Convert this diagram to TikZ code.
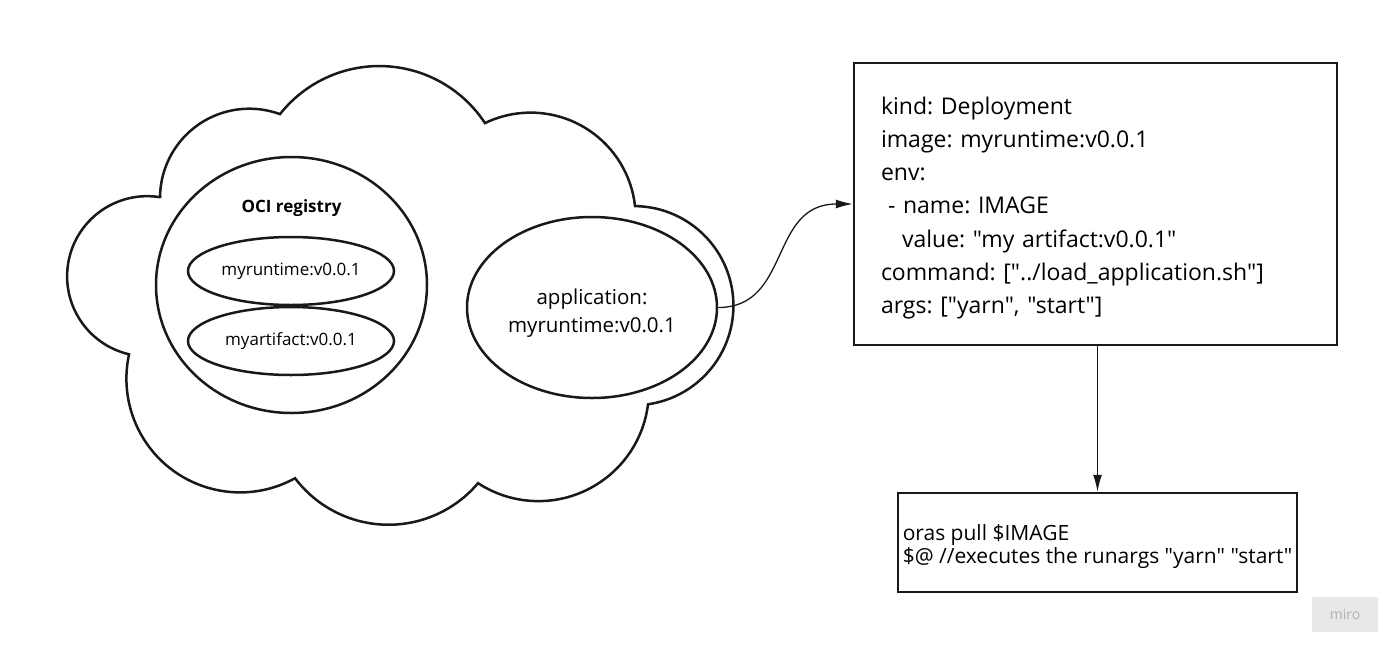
\documentclass[tikz,border=0pt]{standalone}
\usepackage{fontspec}
\setmainfont{Open Sans}[Ligatures=TeXOff]
\usepackage{tikz}
\usetikzlibrary{shapes.geometric,arrows.meta}
\frenchspacing

\begin{document}
\begin{tikzpicture}[x=1pt,y=-1pt,
	outline/.style={draw=black!90, line width=2.5pt},
	oval/.style={ellipse, outline, inner sep=0pt},
	textbox/.style={rectangle, outline, align=left},
	link/.style={draw=black!90, line width=1.3pt, -{Latex[length=17pt,width=9pt]}}]
	\useasboundingbox (0,0) rectangle (1400,654);
	\draw[outline] (160,198) arc[start angle=180, end angle=69.9, radius=89.3pt]
		arc[start angle=141.7, end angle=33.3, radius=126.5pt]
		arc[start angle=115.8, end angle=6.3, radius=105pt]
		arc[start angle=89.3, end angle=-81.8, radius=99.6pt]
		arc[start angle=-7.1, end angle=-123.1, radius=110.5pt]
		arc[start angle=-40.2, end angle=-142.9, radius=117.2pt]
		arc[start angle=-61.1, end angle=-192.4, radius=113.7pt]
		arc[start angle=256.9, end angle=80.7, radius=80.1pt] -- cycle;
	\node[oval, minimum width=271, minimum height=256] at (291.5,285)(registry){};
	\node[font=\fontsize{17}{20}\selectfont\bfseries] at (291.5,208)(registrylabel){OCI registry};
	\node[oval, minimum width=206, minimum height=68, font=\fontsize{17}{20}\selectfont] at (291,271)(runtime){myruntime:v0.0.1};
	\node[oval, minimum width=206, minimum height=68, font=\fontsize{17}{20}\selectfont] at (291,341)(artifact){myartifact:v0.0.1};
	\node[oval, minimum width=250, minimum height=181, align=center, font=\fontsize{20.5}{28}\selectfont] at (592,307.5)(app){\rule{0pt}{27pt}application:\\myruntime:v0.0.1};
	\node[textbox, minimum height=282, inner xsep=27, text width=429, font=\fontsize{23}{33.3}\selectfont] at (1095.5,204)(deploy){\rule{0pt}{25.5pt}kind: Deployment\\image: myruntime:v0.0.1\\env:\\\hspace*{7pt}- name: IMAGE\\\hspace*{21pt}value: "my artifact:v0.0.1"\\command: ["../load\_application.sh"]\\args: ["yarn", "start"]};
	\node[textbox, minimum width=399, minimum height=99, inner xsep=2, font=\fontsize{21}{23.3}\selectfont] at (1097.5,542.5)(entry){\rule{0pt}{24pt}oras pull \$IMAGE\\\$@ //executes the runargs "yarn" "start"};
	\node[fill=black!9, minimum width=66, minimum height=35, text=black!30, font=\fontsize{14}{14}\selectfont] at (1345,614.5)(watermark){miro};
	\draw[link] (app.east) .. controls +(73,0) and +(-84,0) .. (deploy.west);
	\draw[link] (entry.north |- deploy.south) -- (entry.north);
\end{tikzpicture}
\end{document}
